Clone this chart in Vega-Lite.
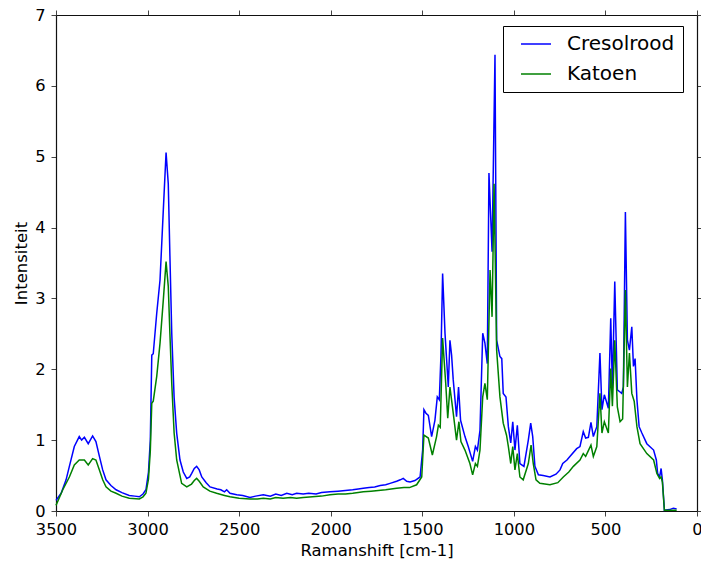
{
  "$schema": "https://vega.github.io/schema/vega-lite/v6.json",
  "width": 641,
  "height": 496,
  "autosize": "none",
  "padding": {"left": 56, "top": 15, "right": 4, "bottom": 52},
  "config": {
    "font": "DejaVu Sans",
    "view": {"stroke": null},
    "axis": {
      "grid": false,
      "domainColor": "#111",
      "domainWidth": 1.2,
      "tickColor": "#444",
      "tickSize": 5,
      "tickWidth": 1,
      "labelFont": "DejaVu Sans",
      "labelFontSize": 16.3,
      "labelColor": "#000",
      "labelPadding": 5,
      "labelFlush": false,
      "labelOverlap": false,
      "titleFont": "DejaVu Sans",
      "titleFontSize": 16.5,
      "titleFontWeight": "normal",
      "titleColor": "#000"
    }
  },
  "datasets": {
    "spectra": [
      {"shift":3500,"int":0.15,"series":"Cresolrood"},{"shift":3472,"int":0.25,"series":"Cresolrood"},{"shift":3445,"int":0.44,"series":"Cresolrood"},{"shift":3427,"int":0.63,"series":"Cresolrood"},{"shift":3400,"int":0.91,"series":"Cresolrood"},{"shift":3373,"int":1.05,"series":"Cresolrood"},{"shift":3360,"int":1.0,"series":"Cresolrood"},{"shift":3345,"int":1.04,"series":"Cresolrood"},{"shift":3324,"int":0.95,"series":"Cresolrood"},{"shift":3300,"int":1.06,"series":"Cresolrood"},{"shift":3282,"int":0.98,"series":"Cresolrood"},{"shift":3263,"int":0.77,"series":"Cresolrood"},{"shift":3245,"int":0.58,"series":"Cresolrood"},{"shift":3227,"int":0.44,"series":"Cresolrood"},{"shift":3200,"int":0.36,"series":"Cresolrood"},{"shift":3172,"int":0.30,"series":"Cresolrood"},{"shift":3140,"int":0.26,"series":"Cresolrood"},{"shift":3100,"int":0.22,"series":"Cresolrood"},{"shift":3070,"int":0.21,"series":"Cresolrood"},{"shift":3045,"int":0.20,"series":"Cresolrood"},{"shift":3025,"int":0.24,"series":"Cresolrood"},{"shift":3009,"int":0.30,"series":"Cresolrood"},{"shift":2995,"int":0.55,"series":"Cresolrood"},{"shift":2985,"int":1.0,"series":"Cresolrood"},{"shift":2977,"int":2.2,"series":"Cresolrood"},{"shift":2969,"int":2.22,"series":"Cresolrood"},{"shift":2950,"int":2.79,"series":"Cresolrood"},{"shift":2932,"int":3.26,"series":"Cresolrood"},{"shift":2914,"int":4.25,"series":"Cresolrood"},{"shift":2899,"int":5.06,"series":"Cresolrood"},{"shift":2887,"int":4.62,"series":"Cresolrood"},{"shift":2878,"int":3.6,"series":"Cresolrood"},{"shift":2868,"int":2.51,"series":"Cresolrood"},{"shift":2855,"int":1.6,"series":"Cresolrood"},{"shift":2841,"int":1.1,"series":"Cresolrood"},{"shift":2823,"int":0.72,"series":"Cresolrood"},{"shift":2805,"int":0.55,"series":"Cresolrood"},{"shift":2786,"int":0.46,"series":"Cresolrood"},{"shift":2770,"int":0.48,"series":"Cresolrood"},{"shift":2759,"int":0.53,"series":"Cresolrood"},{"shift":2745,"int":0.60,"series":"Cresolrood"},{"shift":2732,"int":0.63,"series":"Cresolrood"},{"shift":2718,"int":0.58,"series":"Cresolrood"},{"shift":2704,"int":0.48,"series":"Cresolrood"},{"shift":2680,"int":0.40,"series":"Cresolrood"},{"shift":2659,"int":0.34,"series":"Cresolrood"},{"shift":2620,"int":0.31,"series":"Cresolrood"},{"shift":2600,"int":0.30,"series":"Cresolrood"},{"shift":2580,"int":0.27,"series":"Cresolrood"},{"shift":2568,"int":0.30,"series":"Cresolrood"},{"shift":2550,"int":0.25,"series":"Cresolrood"},{"shift":2513,"int":0.23,"series":"Cresolrood"},{"shift":2480,"int":0.22,"series":"Cresolrood"},{"shift":2441,"int":0.19,"series":"Cresolrood"},{"shift":2410,"int":0.21,"series":"Cresolrood"},{"shift":2368,"int":0.23,"series":"Cresolrood"},{"shift":2330,"int":0.21,"series":"Cresolrood"},{"shift":2300,"int":0.24,"series":"Cresolrood"},{"shift":2270,"int":0.22,"series":"Cresolrood"},{"shift":2240,"int":0.25,"series":"Cresolrood"},{"shift":2210,"int":0.23,"series":"Cresolrood"},{"shift":2186,"int":0.25,"series":"Cresolrood"},{"shift":2150,"int":0.24,"series":"Cresolrood"},{"shift":2120,"int":0.25,"series":"Cresolrood"},{"shift":2080,"int":0.24,"series":"Cresolrood"},{"shift":2050,"int":0.26,"series":"Cresolrood"},{"shift":2004,"int":0.27,"series":"Cresolrood"},{"shift":1960,"int":0.28,"series":"Cresolrood"},{"shift":1920,"int":0.29,"series":"Cresolrood"},{"shift":1880,"int":0.30,"series":"Cresolrood"},{"shift":1850,"int":0.31,"series":"Cresolrood"},{"shift":1822,"int":0.32,"series":"Cresolrood"},{"shift":1790,"int":0.33,"series":"Cresolrood"},{"shift":1760,"int":0.34,"series":"Cresolrood"},{"shift":1730,"int":0.36,"series":"Cresolrood"},{"shift":1700,"int":0.37,"series":"Cresolrood"},{"shift":1676,"int":0.39,"series":"Cresolrood"},{"shift":1640,"int":0.42,"series":"Cresolrood"},{"shift":1620,"int":0.44,"series":"Cresolrood"},{"shift":1604,"int":0.46,"series":"Cresolrood"},{"shift":1585,"int":0.42,"series":"Cresolrood"},{"shift":1567,"int":0.41,"series":"Cresolrood"},{"shift":1540,"int":0.43,"series":"Cresolrood"},{"shift":1512,"int":0.48,"series":"Cresolrood"},{"shift":1498,"int":0.86,"series":"Cresolrood"},{"shift":1491,"int":1.43,"series":"Cresolrood"},{"shift":1480,"int":1.38,"series":"Cresolrood"},{"shift":1467,"int":1.35,"series":"Cresolrood"},{"shift":1449,"int":1.05,"series":"Cresolrood"},{"shift":1431,"int":1.28,"series":"Cresolrood"},{"shift":1418,"int":1.61,"series":"Cresolrood"},{"shift":1407,"int":1.57,"series":"Cresolrood"},{"shift":1398,"int":2.2,"series":"Cresolrood"},{"shift":1389,"int":3.35,"series":"Cresolrood"},{"shift":1376,"int":2.51,"series":"Cresolrood"},{"shift":1358,"int":1.75,"series":"Cresolrood"},{"shift":1349,"int":2.41,"series":"Cresolrood"},{"shift":1340,"int":2.2,"series":"Cresolrood"},{"shift":1331,"int":1.85,"series":"Cresolrood"},{"shift":1313,"int":1.33,"series":"Cresolrood"},{"shift":1302,"int":1.75,"series":"Cresolrood"},{"shift":1291,"int":1.28,"series":"Cresolrood"},{"shift":1267,"int":1.05,"series":"Cresolrood"},{"shift":1249,"int":0.91,"series":"Cresolrood"},{"shift":1225,"int":0.70,"series":"Cresolrood"},{"shift":1210,"int":0.91,"series":"Cresolrood"},{"shift":1199,"int":0.86,"series":"Cresolrood"},{"shift":1185,"int":1.14,"series":"Cresolrood"},{"shift":1170,"int":2.51,"series":"Cresolrood"},{"shift":1158,"int":2.37,"series":"Cresolrood"},{"shift":1145,"int":2.08,"series":"Cresolrood"},{"shift":1136,"int":4.77,"series":"Cresolrood"},{"shift":1119,"int":3.66,"series":"Cresolrood"},{"shift":1103,"int":6.44,"series":"Cresolrood"},{"shift":1094,"int":2.41,"series":"Cresolrood"},{"shift":1076,"int":2.18,"series":"Cresolrood"},{"shift":1066,"int":2.15,"series":"Cresolrood"},{"shift":1058,"int":1.66,"series":"Cresolrood"},{"shift":1043,"int":1.61,"series":"Cresolrood"},{"shift":1030,"int":1.19,"series":"Cresolrood"},{"shift":1017,"int":0.96,"series":"Cresolrood"},{"shift":1006,"int":1.26,"series":"Cresolrood"},{"shift":994,"int":0.86,"series":"Cresolrood"},{"shift":981,"int":1.21,"series":"Cresolrood"},{"shift":967,"int":0.67,"series":"Cresolrood"},{"shift":945,"int":0.63,"series":"Cresolrood"},{"shift":921,"int":1.0,"series":"Cresolrood"},{"shift":908,"int":1.24,"series":"Cresolrood"},{"shift":897,"int":1.05,"series":"Cresolrood"},{"shift":885,"int":0.63,"series":"Cresolrood"},{"shift":866,"int":0.51,"series":"Cresolrood"},{"shift":840,"int":0.50,"series":"Cresolrood"},{"shift":803,"int":0.48,"series":"Cresolrood"},{"shift":770,"int":0.52,"series":"Cresolrood"},{"shift":748,"int":0.58,"series":"Cresolrood"},{"shift":733,"int":0.67,"series":"Cresolrood"},{"shift":710,"int":0.72,"series":"Cresolrood"},{"shift":694,"int":0.77,"series":"Cresolrood"},{"shift":657,"int":0.88,"series":"Cresolrood"},{"shift":639,"int":0.91,"series":"Cresolrood"},{"shift":621,"int":1.12,"series":"Cresolrood"},{"shift":608,"int":1.03,"series":"Cresolrood"},{"shift":593,"int":1.04,"series":"Cresolrood"},{"shift":579,"int":1.25,"series":"Cresolrood"},{"shift":566,"int":1.05,"series":"Cresolrood"},{"shift":547,"int":1.19,"series":"Cresolrood"},{"shift":530,"int":2.23,"series":"Cresolrood"},{"shift":519,"int":1.43,"series":"Cresolrood"},{"shift":506,"int":1.64,"series":"Cresolrood"},{"shift":495,"int":1.55,"series":"Cresolrood"},{"shift":484,"int":1.45,"series":"Cresolrood"},{"shift":471,"int":2.72,"series":"Cresolrood"},{"shift":462,"int":1.73,"series":"Cresolrood"},{"shift":449,"int":3.24,"series":"Cresolrood"},{"shift":435,"int":1.71,"series":"Cresolrood"},{"shift":420,"int":1.68,"series":"Cresolrood"},{"shift":411,"int":1.66,"series":"Cresolrood"},{"shift":402,"int":1.75,"series":"Cresolrood"},{"shift":391,"int":4.22,"series":"Cresolrood"},{"shift":380,"int":2.41,"series":"Cresolrood"},{"shift":369,"int":2.27,"series":"Cresolrood"},{"shift":356,"int":2.6,"series":"Cresolrood"},{"shift":347,"int":2.04,"series":"Cresolrood"},{"shift":338,"int":2.15,"series":"Cresolrood"},{"shift":328,"int":1.57,"series":"Cresolrood"},{"shift":316,"int":1.19,"series":"Cresolrood"},{"shift":301,"int":1.10,"series":"Cresolrood"},{"shift":274,"int":0.95,"series":"Cresolrood"},{"shift":237,"int":0.86,"series":"Cresolrood"},{"shift":222,"int":0.72,"series":"Cresolrood"},{"shift":215,"int":0.53,"series":"Cresolrood"},{"shift":204,"int":0.48,"series":"Cresolrood"},{"shift":196,"int":0.60,"series":"Cresolrood"},{"shift":189,"int":0.44,"series":"Cresolrood"},{"shift":178,"int":0.01,"series":"Cresolrood"},{"shift":150,"int":0.02,"series":"Cresolrood"},{"shift":129,"int":0.04,"series":"Cresolrood"},{"shift":111,"int":0.03,"series":"Cresolrood"},
      {"shift":3500,"int":0.08,"series":"Katoen"},{"shift":3463,"int":0.30,"series":"Katoen"},{"shift":3427,"int":0.48,"series":"Katoen"},{"shift":3400,"int":0.65,"series":"Katoen"},{"shift":3373,"int":0.72,"series":"Katoen"},{"shift":3345,"int":0.72,"series":"Katoen"},{"shift":3324,"int":0.65,"series":"Katoen"},{"shift":3300,"int":0.74,"series":"Katoen"},{"shift":3282,"int":0.72,"series":"Katoen"},{"shift":3263,"int":0.58,"series":"Katoen"},{"shift":3245,"int":0.44,"series":"Katoen"},{"shift":3227,"int":0.34,"series":"Katoen"},{"shift":3200,"int":0.28,"series":"Katoen"},{"shift":3172,"int":0.25,"series":"Katoen"},{"shift":3140,"int":0.21,"series":"Katoen"},{"shift":3100,"int":0.18,"series":"Katoen"},{"shift":3045,"int":0.17,"series":"Katoen"},{"shift":3025,"int":0.20,"series":"Katoen"},{"shift":3009,"int":0.25,"series":"Katoen"},{"shift":2995,"int":0.45,"series":"Katoen"},{"shift":2985,"int":0.85,"series":"Katoen"},{"shift":2977,"int":1.52,"series":"Katoen"},{"shift":2969,"int":1.55,"series":"Katoen"},{"shift":2950,"int":1.9,"series":"Katoen"},{"shift":2932,"int":2.37,"series":"Katoen"},{"shift":2914,"int":2.98,"series":"Katoen"},{"shift":2899,"int":3.52,"series":"Katoen"},{"shift":2887,"int":3.17,"series":"Katoen"},{"shift":2878,"int":2.5,"series":"Katoen"},{"shift":2868,"int":1.8,"series":"Katoen"},{"shift":2855,"int":1.1,"series":"Katoen"},{"shift":2841,"int":0.72,"series":"Katoen"},{"shift":2814,"int":0.39,"series":"Katoen"},{"shift":2786,"int":0.34,"series":"Katoen"},{"shift":2760,"int":0.38,"series":"Katoen"},{"shift":2745,"int":0.43,"series":"Katoen"},{"shift":2732,"int":0.46,"series":"Katoen"},{"shift":2718,"int":0.42,"series":"Katoen"},{"shift":2696,"int":0.34,"series":"Katoen"},{"shift":2660,"int":0.28,"series":"Katoen"},{"shift":2623,"int":0.25,"series":"Katoen"},{"shift":2580,"int":0.22,"series":"Katoen"},{"shift":2550,"int":0.20,"series":"Katoen"},{"shift":2500,"int":0.18,"series":"Katoen"},{"shift":2441,"int":0.17,"series":"Katoen"},{"shift":2400,"int":0.17,"series":"Katoen"},{"shift":2368,"int":0.18,"series":"Katoen"},{"shift":2330,"int":0.17,"series":"Katoen"},{"shift":2300,"int":0.19,"series":"Katoen"},{"shift":2260,"int":0.18,"series":"Katoen"},{"shift":2220,"int":0.19,"series":"Katoen"},{"shift":2186,"int":0.18,"series":"Katoen"},{"shift":2150,"int":0.19,"series":"Katoen"},{"shift":2100,"int":0.20,"series":"Katoen"},{"shift":2050,"int":0.21,"series":"Katoen"},{"shift":2004,"int":0.23,"series":"Katoen"},{"shift":1960,"int":0.24,"series":"Katoen"},{"shift":1920,"int":0.24,"series":"Katoen"},{"shift":1880,"int":0.25,"series":"Katoen"},{"shift":1850,"int":0.26,"series":"Katoen"},{"shift":1822,"int":0.27,"series":"Katoen"},{"shift":1780,"int":0.28,"series":"Katoen"},{"shift":1740,"int":0.29,"series":"Katoen"},{"shift":1700,"int":0.30,"series":"Katoen"},{"shift":1640,"int":0.32,"series":"Katoen"},{"shift":1600,"int":0.33,"series":"Katoen"},{"shift":1570,"int":0.33,"series":"Katoen"},{"shift":1531,"int":0.37,"series":"Katoen"},{"shift":1503,"int":0.48,"series":"Katoen"},{"shift":1491,"int":1.07,"series":"Katoen"},{"shift":1467,"int":1.03,"series":"Katoen"},{"shift":1445,"int":0.79,"series":"Katoen"},{"shift":1422,"int":1.05,"series":"Katoen"},{"shift":1412,"int":1.21,"series":"Katoen"},{"shift":1402,"int":1.18,"series":"Katoen"},{"shift":1389,"int":2.44,"series":"Katoen"},{"shift":1372,"int":1.8,"series":"Katoen"},{"shift":1361,"int":1.31,"series":"Katoen"},{"shift":1349,"int":1.75,"series":"Katoen"},{"shift":1331,"int":1.38,"series":"Katoen"},{"shift":1313,"int":1.0,"series":"Katoen"},{"shift":1300,"int":1.26,"series":"Katoen"},{"shift":1289,"int":0.98,"series":"Katoen"},{"shift":1267,"int":0.86,"series":"Katoen"},{"shift":1240,"int":0.67,"series":"Katoen"},{"shift":1225,"int":0.51,"series":"Katoen"},{"shift":1210,"int":0.67,"series":"Katoen"},{"shift":1199,"int":0.63,"series":"Katoen"},{"shift":1185,"int":0.86,"series":"Katoen"},{"shift":1170,"int":1.61,"series":"Katoen"},{"shift":1158,"int":1.8,"series":"Katoen"},{"shift":1145,"int":1.57,"series":"Katoen"},{"shift":1130,"int":3.4,"series":"Katoen"},{"shift":1119,"int":2.74,"series":"Katoen"},{"shift":1108,"int":4.62,"series":"Katoen"},{"shift":1094,"int":2.27,"series":"Katoen"},{"shift":1076,"int":1.61,"series":"Katoen"},{"shift":1058,"int":1.24,"series":"Katoen"},{"shift":1040,"int":1.07,"series":"Katoen"},{"shift":1030,"int":0.91,"series":"Katoen"},{"shift":1017,"int":0.67,"series":"Katoen"},{"shift":1006,"int":0.91,"series":"Katoen"},{"shift":994,"int":0.58,"series":"Katoen"},{"shift":981,"int":0.81,"series":"Katoen"},{"shift":967,"int":0.48,"series":"Katoen"},{"shift":949,"int":0.44,"series":"Katoen"},{"shift":921,"int":0.67,"series":"Katoen"},{"shift":906,"int":0.93,"series":"Katoen"},{"shift":894,"int":0.67,"series":"Katoen"},{"shift":879,"int":0.44,"series":"Katoen"},{"shift":858,"int":0.39,"series":"Katoen"},{"shift":803,"int":0.37,"series":"Katoen"},{"shift":760,"int":0.40,"series":"Katoen"},{"shift":730,"int":0.48,"series":"Katoen"},{"shift":700,"int":0.55,"series":"Katoen"},{"shift":675,"int":0.63,"series":"Katoen"},{"shift":639,"int":0.72,"series":"Katoen"},{"shift":621,"int":0.81,"series":"Katoen"},{"shift":608,"int":0.77,"series":"Katoen"},{"shift":579,"int":0.93,"series":"Katoen"},{"shift":566,"int":0.77,"series":"Katoen"},{"shift":547,"int":0.91,"series":"Katoen"},{"shift":530,"int":1.66,"series":"Katoen"},{"shift":519,"int":1.10,"series":"Katoen"},{"shift":506,"int":1.26,"series":"Katoen"},{"shift":484,"int":1.10,"series":"Katoen"},{"shift":471,"int":2.01,"series":"Katoen"},{"shift":462,"int":1.48,"series":"Katoen"},{"shift":449,"int":2.41,"series":"Katoen"},{"shift":435,"int":1.47,"series":"Katoen"},{"shift":420,"int":1.26,"series":"Katoen"},{"shift":406,"int":1.30,"series":"Katoen"},{"shift":391,"int":3.12,"series":"Katoen"},{"shift":380,"int":1.75,"series":"Katoen"},{"shift":369,"int":2.23,"series":"Katoen"},{"shift":356,"int":1.66,"series":"Katoen"},{"shift":343,"int":1.55,"series":"Katoen"},{"shift":328,"int":1.19,"series":"Katoen"},{"shift":311,"int":0.95,"series":"Katoen"},{"shift":274,"int":0.81,"series":"Katoen"},{"shift":237,"int":0.72,"series":"Katoen"},{"shift":219,"int":0.53,"series":"Katoen"},{"shift":204,"int":0.46,"series":"Katoen"},{"shift":196,"int":0.48,"series":"Katoen"},{"shift":189,"int":0.41,"series":"Katoen"},{"shift":178,"int":0.01,"series":"Katoen"},{"shift":111,"int":0.01,"series":"Katoen"}
    ]
  },
  "data": {"name": "spectra"},
  "layer": [
    {
      "mark": {"type": "line", "strokeWidth": 1.5},
      "encoding": {
        "x": {
          "field": "shift", "type": "quantitative",
          "scale": {"domain": [0, 3500], "reverse": true, "nice": false, "zero": false},
          "axis": {"orient": "bottom", "values": [0, 500, 1000, 1500, 2000, 2500, 3000, 3500], "format": "d", "title": "Ramanshift [cm-1]", "titlePadding": 5}
        },
        "y": {
          "field": "int", "type": "quantitative",
          "scale": {"domain": [0, 7], "nice": false},
          "axis": {"orient": "left", "values": [0, 1, 2, 3, 4, 5, 6, 7], "format": "d", "title": "Intensiteit", "titlePadding": 5, "labelPadding": 6}
        },
        "color": {
          "field": "series", "type": "nominal",
          "scale": {"domain": ["Cresolrood", "Katoen"], "range": ["#0000ff", "#008000"]},
          "legend": {
            "orient": "none", "legendX": 447, "legendY": 11,
            "title": null,
            "strokeColor": "#000", "fillColor": "#fff", "padding": 8,
            "symbolType": "M-3,0H3", "symbolSize": 100, "symbolStrokeWidth": 1.5, "symbolOffset": 15,
            "labelFont": "DejaVu Sans", "labelFontSize": 20, "labelColor": "#000", "labelOffset": 21,
            "rowPadding": 10
          }
        }
      }
    },
    {
      "mark": {"type": "point", "opacity": 0},
      "encoding": {
        "x": {
          "field": "shift", "type": "quantitative",
          "scale": {"domain": [0, 3500], "reverse": true, "nice": false, "zero": false},
          "axis": {"orient": "top", "values": [0, 500, 1000, 1500, 2000, 2500, 3000, 3500], "labels": false, "title": null}
        },
        "y": {
          "field": "int", "type": "quantitative",
          "scale": {"domain": [0, 7], "nice": false},
          "axis": {"orient": "right", "values": [0, 1, 2, 3, 4, 5, 6, 7], "labels": false, "title": null}
        }
      }
    }
  ],
  "resolve": {"axis": {"x": "independent", "y": "independent"}}
}
